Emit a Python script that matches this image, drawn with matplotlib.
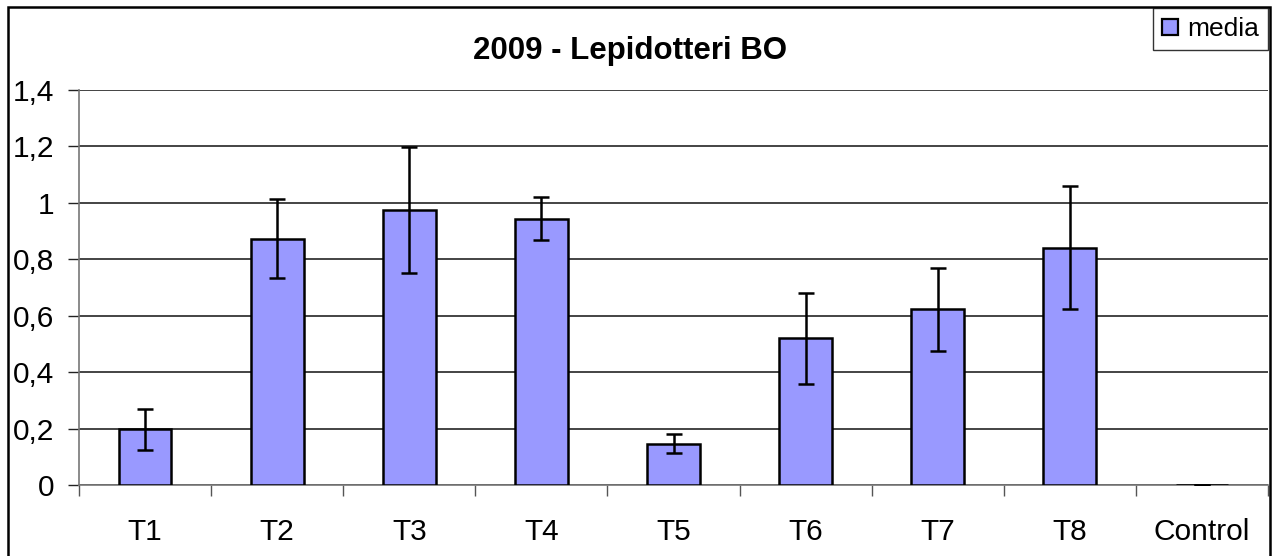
import numpy as np
import matplotlib
matplotlib.use("Agg")
import matplotlib.pyplot as plt
from matplotlib.patches import Patch, Rectangle
from matplotlib.ticker import FixedLocator, FuncFormatter

# data
categories = ['T1', 'T2', 'T3', 'T4', 'T5', 'T6', 'T7', 'T8', 'Control']
media = [0.197, 0.872, 0.975, 0.944, 0.146, 0.520, 0.623, 0.841, 0.0]
errors = [0.073, 0.140, 0.223, 0.077, 0.033, 0.161, 0.147, 0.217, 0.0]
yticks = [0, 0.2, 0.4, 0.6, 0.8, 1.0, 1.2, 1.4]

bar_color = '#9999FF'
plt.rcParams['font.family'] = ['Liberation Sans', 'DejaVu Sans']

W, H = 1273, 556
fig = plt.figure(figsize=(W / 100, H / 100), dpi=100)
ax = fig.add_axes([79 / W, 71 / H, (1268 - 79) / W, 395 / H])

x = np.arange(len(categories))
ax.bar(x, media, width=0.4, color=bar_color, edgecolor='black', linewidth=1.8, zorder=3)
ax.errorbar(x, media, yerr=errors, fmt='none', ecolor='black', elinewidth=1.8,
            capsize=5.8, capthick=1.8, zorder=4)

ax.set_xlim(-0.5, len(categories) - 0.5)
ax.set_ylim(0, 1.4)
ax.set_yticks(yticks)
ax.yaxis.set_major_formatter(FuncFormatter(lambda v, p: ('%g' % round(v, 1)).replace('.', ',')))
ax.yaxis.grid(True, color='#111111', linewidth=1.1, zorder=0)
ax.set_axisbelow(True)

ax.set_xticks(x)
ax.set_xticklabels(categories)
ax.xaxis.set_minor_locator(FixedLocator(np.arange(-0.5, len(categories), 1.0)))
ax.tick_params(axis='x', which='major', length=0, pad=24, labelsize=21.5)
ax.tick_params(axis='x', which='minor', length=8, width=1, color='#555555')
ax.tick_params(axis='y', length=8, width=1, color='#222222', pad=10, labelsize=21.5)

for s in ['top', 'right']:
    ax.spines[s].set_visible(False)
ax.spines['left'].set_color('#777777')
ax.spines['bottom'].set_color('#777777')
ax.spines['left'].set_linewidth(1.2)
ax.spines['bottom'].set_linewidth(1.2)

fig.text(630 / W, 1 - 59 / H, '2009 - Lepidotteri BO', ha='center', va='baseline',
         fontsize=22.5, fontweight='bold')

handle = Patch(facecolor=bar_color, edgecolor='black', linewidth=1.6, label='media')
leg = fig.legend(handles=[handle], loc='upper right', bbox_to_anchor=(1268 / W, 1 - 8 / H),
                 bbox_transform=fig.transFigure, fontsize=19, frameon=True, fancybox=False,
                 edgecolor='black', borderpad=0.35, handlelength=0.6, handleheight=0.6,
                 handletextpad=0.35, borderaxespad=0)
leg.get_frame().set_linewidth(1)

# outer chart frame (bottom edge lies below the image)
fig.patches.append(Rectangle((8 / W, -0.05), (1270 - 8) / W, 1.05 - 7 / H,
                             transform=fig.transFigure, fill=False, edgecolor='black',
                             linewidth=1.8, clip_on=False))

fig.savefig('out.png', dpi=100)
